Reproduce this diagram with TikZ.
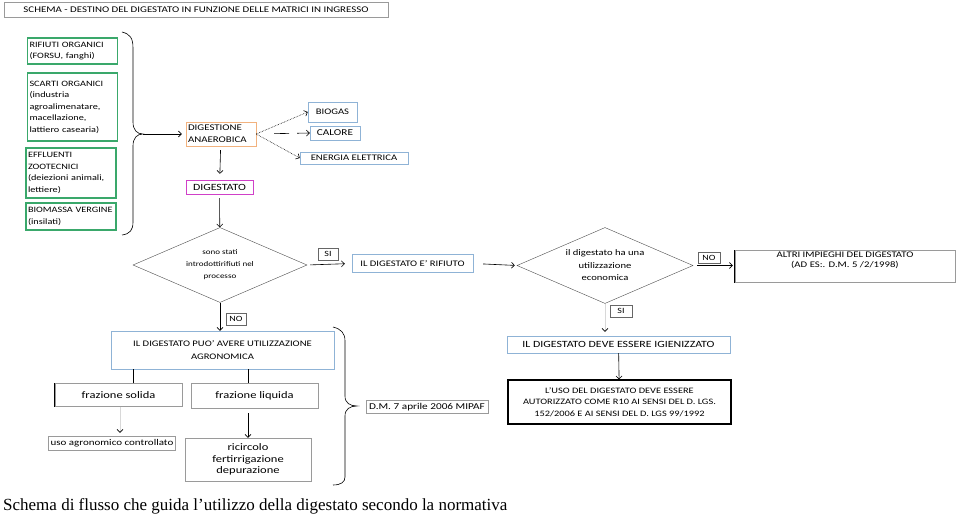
\documentclass[tikz,border=0pt]{standalone}
\usepackage{fontspec}
\setmainfont{Carlito}[FakeStretch=1.25]
\newfontfamily\capfont{Liberation Serif}
\usetikzlibrary{shapes.geometric, arrows, arrows.meta}
\definecolor{cbgreen}{HTML}{3AA86B}
\definecolor{cborange}{HTML}{F2B27E}
\definecolor{cbmagenta}{HTML}{D040C8}
\definecolor{cbblue}{HTML}{8FB3D6}
\definecolor{cbgrey}{HTML}{9A9A9A}
\definecolor{cbfaint}{HTML}{D8D8D8}
\tikzstyle{titlebox} = [rectangle, draw=cbgrey, minimum width=384pt, minimum height=15pt,
inner sep=0pt, font=\fontsize{8.7}{9}\selectfont]
\tikzstyle{source} = [rectangle, draw=cbgreen, line width=1.3pt, align=left, text width=86pt, inner sep=2pt,
font=\fontsize{8.2}{11.5}\selectfont]
\tikzstyle{stage} = [rectangle, draw=cborange, align=left, text width=66pt, minimum height=24pt, inner sep=2pt,
font=\fontsize{8.7}{12}\selectfont]
\tikzstyle{product} = [rectangle, draw=cbblue, minimum height=14pt, inner sep=2pt, font=\fontsize{8.5}{12.5}\selectfont]
\tikzstyle{digest} = [rectangle, draw=cbmagenta, minimum width=67pt, minimum height=14pt, inner sep=2pt,
font=\fontsize{9.5}{10}\selectfont]
\tikzstyle{question} = [diamond, draw=black!70, aspect=2.3, inner sep=0pt, align=center,
minimum width=174pt, minimum height=75pt, font=\fontsize{7.2}{12}\selectfont]
\tikzstyle{yesno} = [rectangle, draw=black!60, minimum width=20pt, minimum height=12pt, inner sep=1pt,
font=\fontsize{8}{8}\selectfont]
\tikzstyle{plainbox} = [rectangle, draw=cbgrey, align=center, inner sep=2pt, font=\fontsize{9}{11.5}\selectfont]
\tikzstyle{lawbox} = [rectangle, draw=black, line width=1.2pt, align=center, inner sep=2pt,
font=\fontsize{8.3}{11.5}\selectfont]
\tikzstyle{arrow} = [semithick, ->, >={Straight Barb[length=3pt, width=6pt]}]
\tikzstyle{dotarrow} = [semithick, ->, >={Straight Barb[length=3pt, width=6pt]}, densely dotted]
\tikzstyle{faintarrow} = [semithick, draw=cbfaint, -{Straight Barb[length=3pt, width=6pt, color=black]}]

\begin{document}
\begin{tikzpicture}[x=1pt, y=-1pt, font=\fontsize{8.5}{11.5}\selectfont, node distance=1cm]

\useasboundingbox (0,0) rectangle (959,518);

% ------------------------- nodes -------------------------

% ----- node: 0
\node(0)[titlebox] at (196,9.5) {SCHEMA - DESTINO DEL DIGESTATO IN FUNZIONE DELLE MATRICI IN INGRESSO};
% ----- node: 1
\node(1)[source, minimum height=26pt] at (72.5,51) {RIFIUTI ORGANICI\\(FORSU, fanghi)};
% ----- node: 2
\node(2)[source, minimum height=68pt] at (72.5,107) {SCARTI ORGANICI\\(industria\\agroalimenatare,\\macellazione,\\lattiero casearia)};
% ----- node: 3
\node(3)[source, minimum height=50pt] at (71,173) {EFFLUENTI\\ZOOTECNICI\\(deiezioni animali,\\lettiere)};
% ----- node: 4
\node(4)[source, minimum height=27pt] at (71,216.5) {BIOMASSA VERGINE\\(insilati)};
% ----- node: 5
\node(5)[stage] at (221,134) {DIGESTIONE\\ANAEROBICA};
% ----- node: 6
\node(6)[product, minimum width=49pt, minimum height=20pt] at (332.5,112) {BIOGAS};
% ----- node: 7
\node(7)[product, minimum width=50pt, font=\fontsize{9}{9}\selectfont] at (335,133) {CALORE};
% ----- node: 8
\node(8)[product, minimum width=108pt, minimum height=12pt] at (354,158) {ENERGIA ELETTRICA};
% ----- node: 9
\node(9)[digest, below of=5, node distance=53pt, xshift=-1.5pt] {DIGESTATO};
% ----- node: 10
\node(10)[question, below of=9, node distance=78pt, xshift=0.5pt] {sono stati\\introdottirifiuti nel\\processo};
% ----- node: 11
\node(11)[yesno] at (328,254) {SI};
% ----- node: 12
\node(12)[product, minimum width=121pt, minimum height=18pt] at (412.5,263.5) {IL DIGESTATO E' RIFIUTO};
% ----- node: 13
\node(13)[question, minimum width=176pt, minimum height=76pt, font=\fontsize{8.5}{12.5}\selectfont] at (605,265.5) {il digestato ha una\\utilizzazione\\economica};
% ----- node: 14
\node(14)[yesno, minimum width=22pt, minimum height=11pt] at (709,257.5) {NO};
% ----- node: 15
\node(15)[plainbox, minimum width=220pt, minimum height=32pt, inner ysep=0.5pt, text depth=14pt,
  font=\fontsize{8.6}{10.5}\selectfont] at (845,266.5) {ALTRI IMPIEGHI DEL DIGESTATO\\(AD ES:. D.M. 5 /2/1998)};
% ----- node: 16
\node(16)[yesno, minimum width=22pt] at (621,311) {SI};
% ----- node: 17
\node(17)[product, minimum width=223pt, minimum height=17pt, font=\fontsize{9.5}{10}\selectfont] at (618.5,344.5) {IL DIGESTATO DEVE ESSERE IGIENIZZATO};
% ----- node: 18
\node(18)[lawbox, below of=17, node distance=57.5pt, xshift=1pt, minimum width=223pt, minimum height=44pt] {L'USO DEL DIGESTATO DEVE ESSERE\\AUTORIZZATO COME R10 AI SENSI DEL D. LGS.\\152/2006 E AI SENSI DEL D. LGS 99/1992};
% ----- node: 19
\node(19)[yesno] at (236,319) {NO};
% ----- node: 20
\node(20)[product, below of=10, node distance=85pt, xshift=2.5pt, minimum width=223pt, minimum height=38pt, align=center] {IL DIGESTATO PUO' AVERE UTILIZZAZIONE\\AGRONOMICA};
% ----- node: 21
\node(21)[plainbox, minimum width=127pt, minimum height=23pt, font=\fontsize{10}{11}\selectfont] at (118.5,395) {frazione solida};
% ----- node: 22
\node(22)[plainbox, minimum width=127pt, minimum height=25pt, font=\fontsize{10}{11}\selectfont] at (254.5,395.5) {frazione liquida};
% ----- node: 23
\node(23)[plainbox, minimum width=126pt, minimum height=14pt, font=\fontsize{8.8}{10}\selectfont] at (112,443) {uso agronomico controllato};
% ----- node: 24
\node(24)[plainbox, minimum width=126pt, minimum height=43pt, font=\fontsize{10}{11.5}\selectfont] at (248,459.5) {ricircolo\\fertirrigazione\\depurazione};
% ----- node: 25
\node(25)[plainbox, minimum width=122pt, minimum height=13pt] at (427,407) {D.M. 7 aprile 2006 MIPAF};
% ----- node: 26
\node(26)[anchor=west, inner sep=0pt, font=\capfont\fontsize{17}{18}\selectfont] at (3,506) {Schema di flusso che guida l’utilizzo della digestato secondo la normativa};

% ------------------------- braces -------------------------

\coordinate(b1) at (143,134);
\draw[semithick] (122,32) .. controls (130,34) and (133,38) .. (133,48) -- (133,122)
  .. controls (133,130) and (137,134) .. (b1) .. controls (137,134) and (133,138) .. (133,146)
  -- (133,222) .. controls (133,230) and (130,234) .. (122,235);
\coordinate(b2) at (357,406);
\draw[semithick] (333,327) .. controls (341,329) and (345,333) .. (345,341) -- (345,396)
  .. controls (345,403) and (350,406) .. (b2) .. controls (350,406) and (345,409) .. (345,416)
  -- (345,477) .. controls (345,482) and (341,485) .. (333,485);

% ------------------------- arrows -------------------------

\draw[arrow, shorten >=4pt] (b1) -- (5);
\draw[dotarrow] (5.east) -- (6.west);
\draw[arrow, dash pattern=on 0pt off 18pt on 15pt off 8pt on 12pt] (5.east) -- (7.west);
\draw[dotarrow] (5.east) -- (8.west);
\draw[arrow, shorten <=4pt, shorten >=6pt] (5) -- (9);
\draw[arrow, shorten <=4pt] (9) -- (10);
\draw[arrow, shorten <=3pt, shorten >=7pt] (10.east) -- (12.west);
\draw[arrow, shorten <=10pt, shorten >=2pt] (12.east) -- (13.west);
\draw[arrow, shorten <=4pt, shorten >=2pt] (13.east) -- (13.east -| 15.west);
\draw[faintarrow, shorten >=4pt] (13.south) -- (13.south |- 17.north);
\draw[arrow] (17) -- (18);
\draw[arrow] (10.south) -- (10.south |- 20.north);
\coordinate(c1) at ([xshift=14.5pt]21.north);
\draw[semithick] (c1) -- (c1 |- 20.south);
\coordinate(c2) at ([xshift=-6.5pt]22.north);
\draw[semithick] (c2) -- (c2 |- 20.south);
\coordinate(c3) at ([xshift=1.5pt]21.south);
\draw[faintarrow, shorten >=3pt] (c3) -- (c3 |- 23.north);
\coordinate(c4) at ([xshift=-6.5pt]22.south);
\draw[arrow, shorten <=5pt] (c4) -- (c4 |- 24.north);

% darker left edges
\draw[line width=1pt] (15.north west) -- (15.south west);
\draw[line width=1pt] (21.north west) -- (21.south west);

\end{tikzpicture}
\end{document}
